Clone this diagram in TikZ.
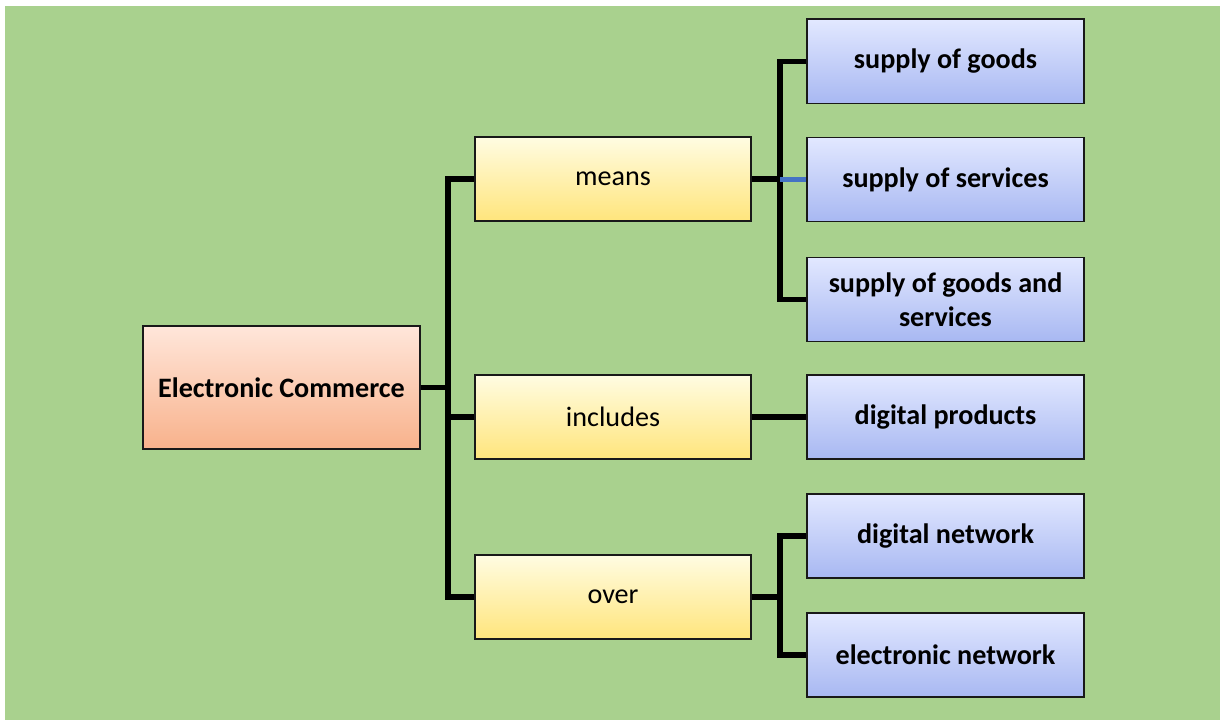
\documentclass[tikz,border=0pt]{standalone}
\usepackage{fontspec}
\setmainfont{Carlito}
\definecolor{bgGreen}{HTML}{A9D18E}
\definecolor{ecTop}{HTML}{FFE6DA}
\definecolor{ecBot}{HTML}{F8B28C}
\definecolor{midTop}{HTML}{FFFCE2}
\definecolor{midBot}{HTML}{FFE57C}
\definecolor{leafTop}{HTML}{E2E8FF}
\definecolor{leafBot}{HTML}{A8B8F2}
\definecolor{linkBlue}{HTML}{4472C4}
\tikzset{
  box/.style={draw=black!90, line width=1.4pt, minimum width=6.9cm,
    minimum height=2.1cm, align=center, font=\fontsize{20}{24}\selectfont},
  ecbox/.style={box, minimum height=3.05cm, top color=ecTop, bottom color=ecBot,
    font=\fontsize{20}{24}\selectfont\bfseries},
  midbox/.style={box, top color=midTop, bottom color=midBot},
  leafbox/.style={box, top color=leafTop, bottom color=leafBot,
    font=\fontsize{20}{24}\selectfont\bfseries},
  link/.style={line width=4pt, black}
}
\begin{document}
\begin{tikzpicture}[x=0.025cm, y=-0.025cm]
  \def\cA{281.5} \def\cB{613} \def\cC{945.5}
  \fill[white] (0,0) rectangle (1220,720);
  \fill[bgGreen] (5,6) rectangle (1220,720);
  \useasboundingbox (0,0) rectangle (1220,720);
  % root and middle column
  \node[ecbox] (ec) at (\cA, 387.5) {Electronic Commerce};
  \node[midbox] (means) at (\cB, 179) {means};
  \node[midbox] (includes) at (\cB, 417) {includes};
  \node[midbox] (over) at (\cB, 597) {over};
  % leaves
  \node[leafbox] (goods) at (\cC, 61.5) {supply of goods};
  \node[leafbox] (services) at (\cC, 179.5) {supply of services};
  \node[leafbox] (both) at (\cC, 299.5) {supply of goods and\\services};
  \node[leafbox] (products) at (\cC, 417) {digital products};
  \node[leafbox] (digital) at (\cC, 536) {digital network};
  \node[leafbox] (electronic) at (\cC, 655) {electronic network};
  % trunks
  \coordinate (tA) at (448, 179);
  \coordinate (tB) at (780, 61.5);
  \coordinate (tC) at (780, 536);
  \draw[link] (means.west) -- (tA) |- (over.west);
  \draw[link] (ec.east) -- (ec.east -| tA);
  \draw[link] (includes.west) -- (includes.west -| tA);
  \draw[link] (goods.west) -- (tB) |- (both.west);
  \draw[link] (means.east) -- (means.east -| tB);
  \draw[line width=4pt, linkBlue] (services.west -| tB) -- (services.west);
  \draw[link] (includes.east) -- (products.west);
  \draw[link] (digital.west) -- (tC) |- (electronic.west);
  \draw[link] (over.east) -- (over.east -| tC);
\end{tikzpicture}
\end{document}
